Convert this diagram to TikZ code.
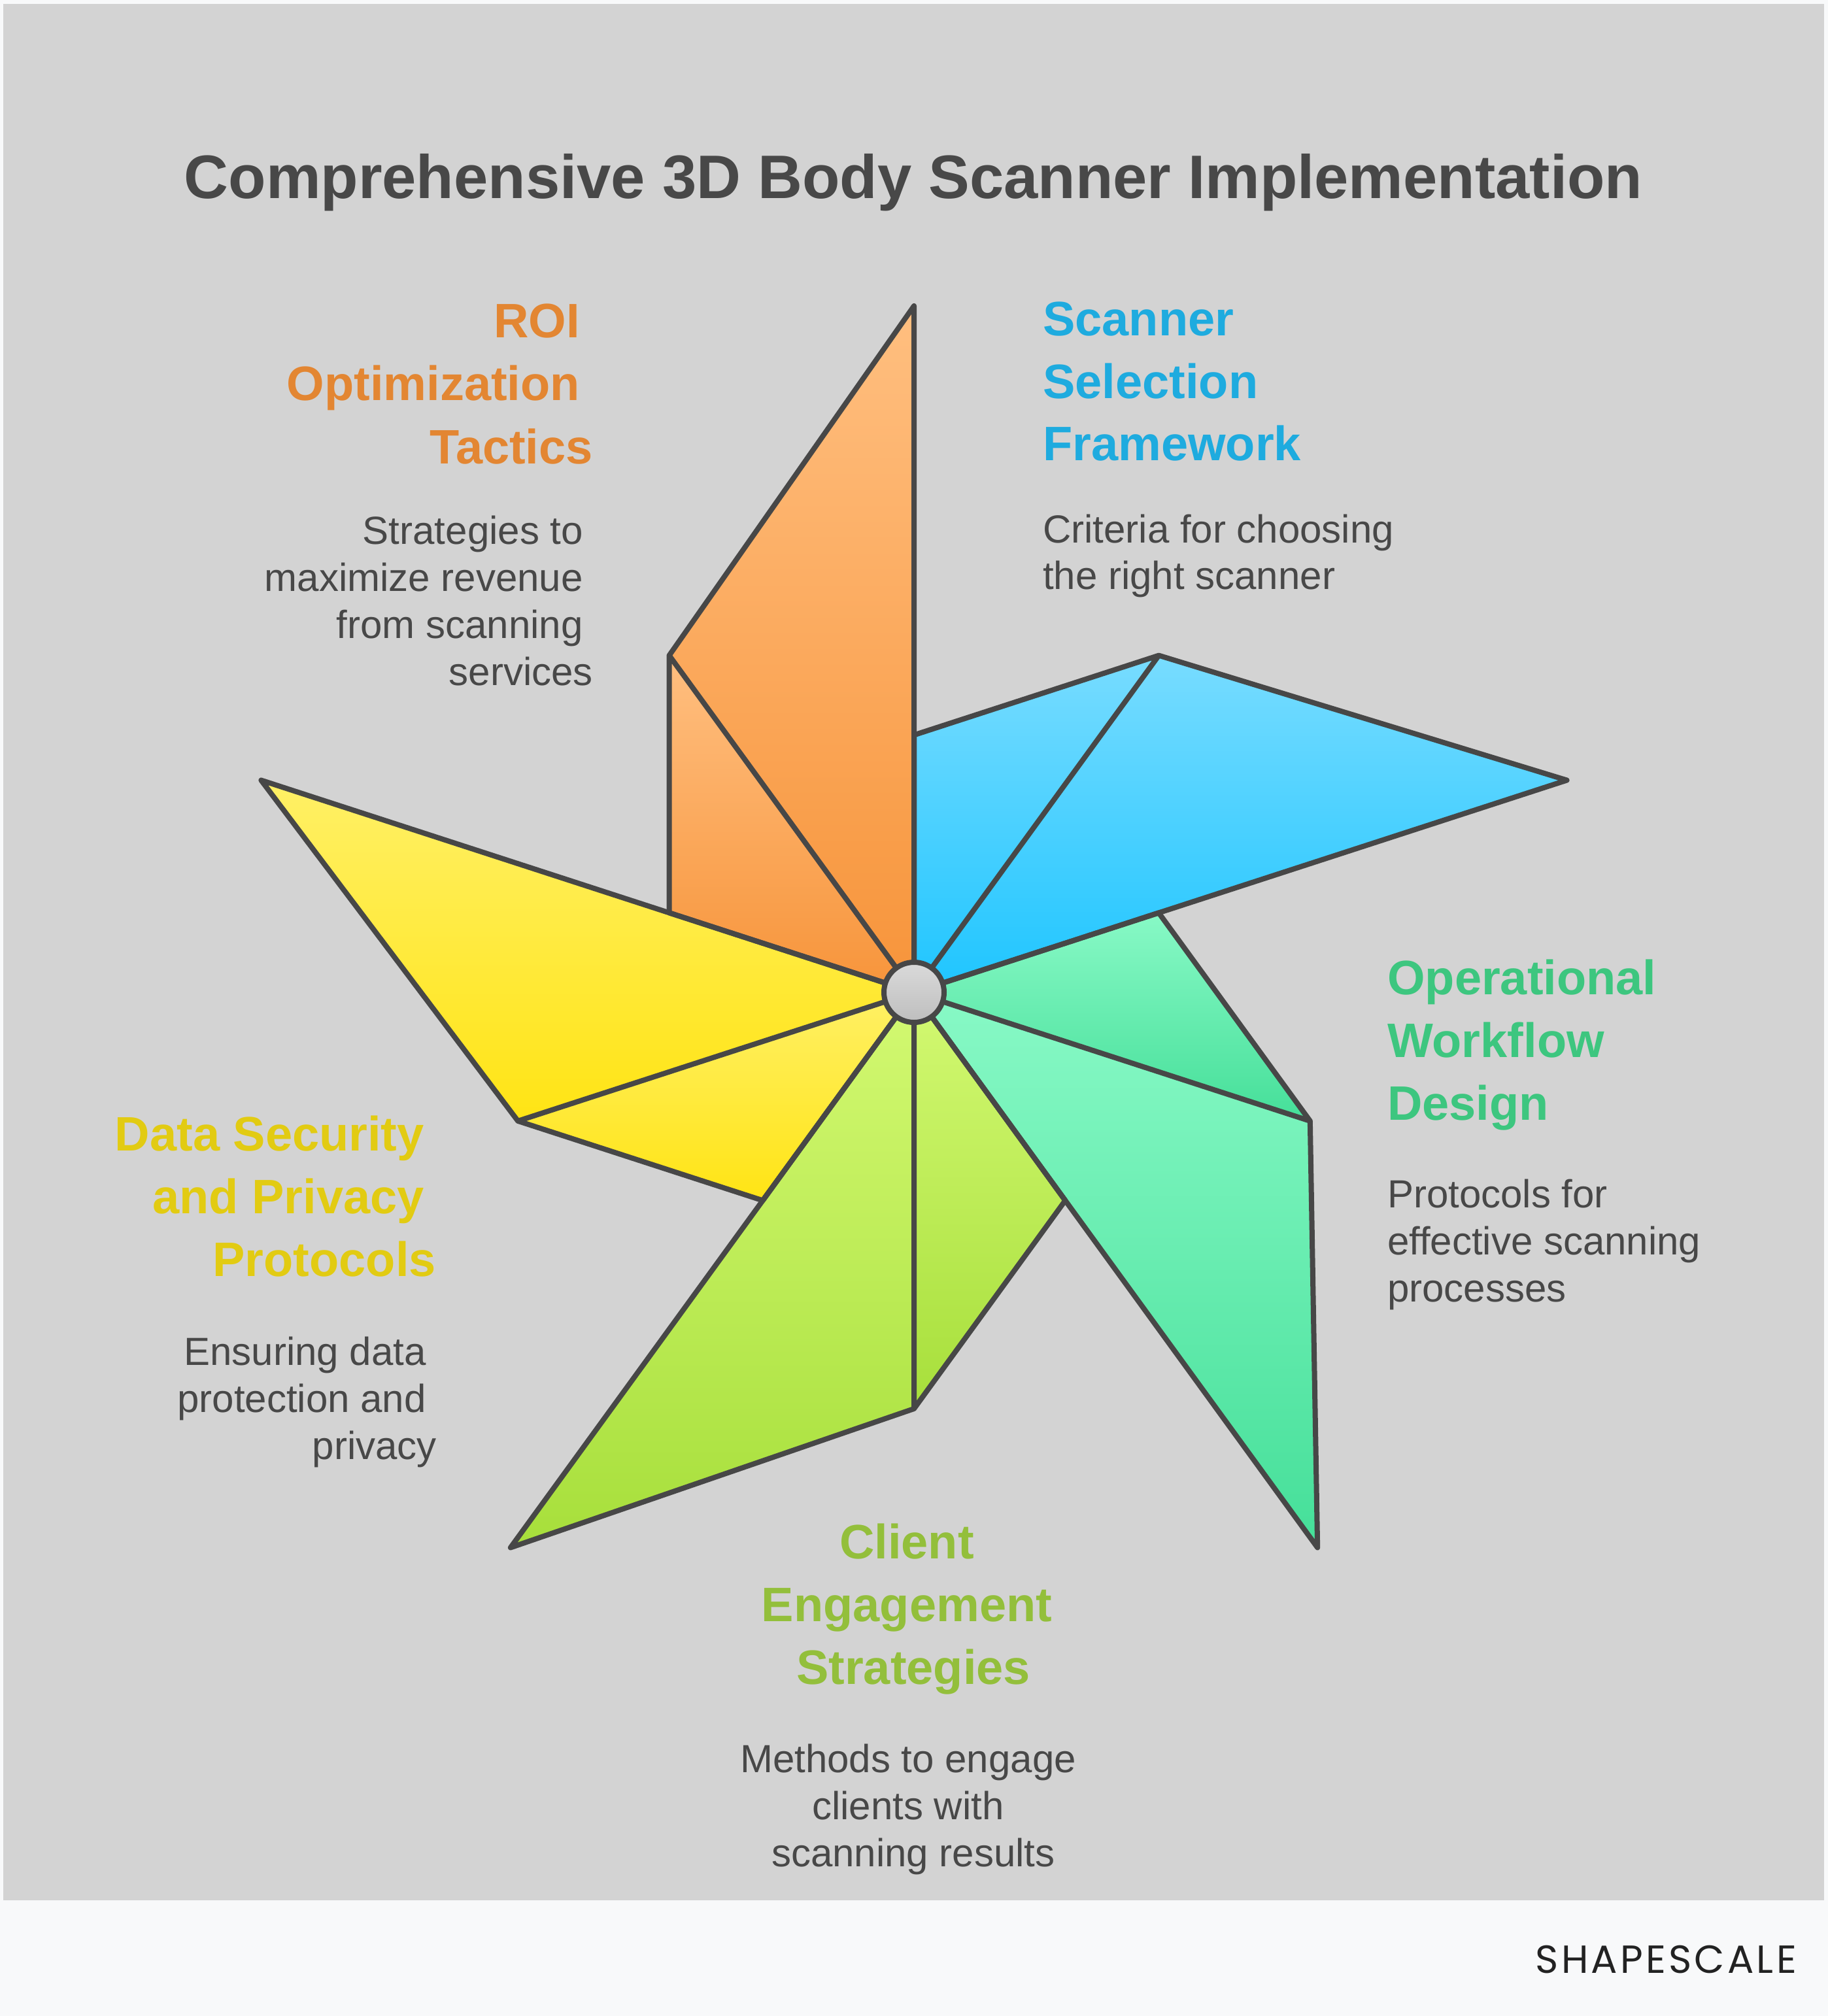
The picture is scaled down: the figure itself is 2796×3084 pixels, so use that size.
\documentclass[tikz,border=0pt]{standalone}
\usepackage{fontspec}
\setmainfont{Liberation Sans}
\newfontfamily\logofont{Poppins}[LetterSpace=7]
\usetikzlibrary{calc}
\definecolor{bggray}{HTML}{D3D3D3}
\definecolor{footbg}{HTML}{F8F9FA}
\definecolor{edgecol}{HTML}{474747}
\definecolor{txtdark}{HTML}{484848}
\definecolor{logocol}{HTML}{222222}
\definecolor{hOrange}{HTML}{E38632}
\definecolor{hBlue}{HTML}{1EABDF}
\definecolor{hGreen}{HTML}{3DC67F}
\definecolor{hLime}{HTML}{93BF3B}
\definecolor{hYellow}{HTML}{E2CB12}
\definecolor{orTop}{HTML}{FFBF80}
\definecolor{orBot}{HTML}{F7943A}
\definecolor{blTop}{HTML}{78DCFF}
\definecolor{blBot}{HTML}{1EC5FF}
\definecolor{grTop}{HTML}{88F9C6}
\definecolor{grBot}{HTML}{45DF99}
\definecolor{liTop}{HTML}{D3F972}
\definecolor{liBot}{HTML}{A7DF3B}
\definecolor{yeTop}{HTML}{FFF066}
\definecolor{yeBot}{HTML}{FFE414}
\definecolor{hubTop}{HTML}{DADADA}
\definecolor{hubBot}{HTML}{BEBEBE}
\begin{document}
\begin{tikzpicture}[x=1pt,y=-1pt,
  edge/.style={draw=edgecol, line width=8pt, line join=round, line cap=round},
  titlestyle/.style={font=\fontsize{94}{113}\selectfont\bfseries, text=txtdark, inner sep=0pt},
  headstyle/.style={font=\fontsize{74}{96}\selectfont\bfseries, inner sep=0pt},
  bodystyle/.style={font=\fontsize{60}{72}\selectfont, text=txtdark, inner sep=0pt}]
\useasboundingbox (0,0) rectangle (2796,3084);
\fill[footbg] (0,0) rectangle (2796,3084);
\fill[bggray] (5,6) rectangle (2790,2907);

\node[titlestyle, anchor=base] (title) at (1397,303) {Comprehensive 3D Body Scanner Implementation};

% pinwheel geometry
\coordinate (C) at (1398,1518);
\foreach \k/\a in {0/-90,1/-18,2/54,3/126,4/198} {
  \coordinate (T\k) at ($(C)+(\a:1050)$);
  \coordinate (M\k) at ($(C)+({\a-36}:637)$);
  \coordinate (P\k) at ($(C)+({\a-72}:393.6)$);
}
\foreach \k/\ct/\cb in {0/orTop/orBot,1/blTop/blBot,2/grTop/grBot,3/liTop/liBot,4/yeTop/yeBot} {
  \shade[top color=\ct, bottom color=\cb] (C) -- (T\k) -- (M\k) -- cycle;
  \shade[top color=\ct, bottom color=\cb] (C) -- (M\k) -- (P\k) -- cycle;
}
\foreach \k in {0,...,4} {
  \draw[edge] (C) -- (T\k) -- (M\k) -- (P\k) -- cycle (C) -- (M\k);
}
\node[circle, draw=edgecol, line width=8pt, minimum size=92pt, inner sep=0pt,
      top color=hubTop, bottom color=hubBot] (hub) at (C) {};

% Scanner Selection Framework
\node[headstyle, text=hBlue, anchor=base west] (s1) at (1595,513) {Scanner};
\node[headstyle, text=hBlue, anchor=base west] (s2) at (1595,609) {Selection};
\node[headstyle, text=hBlue, anchor=base west] (s3) at (1595,704) {Framework};
\node[bodystyle, anchor=base west] (sb1) at (1595,830) {Criteria for choosing};
\node[bodystyle, anchor=base west] (sb2) at (1595,901) {the right scanner};

% ROI Optimization Tactics
\node[headstyle, text=hOrange, anchor=base east] (r1) at (887,516) {ROI};
\node[headstyle, text=hOrange, anchor=base east] (r2) at (887,612) {Optimization};
\node[headstyle, text=hOrange, anchor=base east] (r3) at (907,709) {Tactics};
\node[bodystyle, anchor=base east] (rb1) at (892,832) {Strategies to};
\node[bodystyle, anchor=base east] (rb2) at (892,904) {maximize revenue};
\node[bodystyle, anchor=base east] (rb3) at (892,976) {from scanning};
\node[bodystyle, anchor=base east] (rb4) at (907,1048) {services};

% Operational Workflow Design
\node[headstyle, text=hGreen, anchor=base west] (o1) at (2122,1521) {Operational};
\node[headstyle, text=hGreen, anchor=base west] (o2) at (2122,1617) {Workflow};
\node[headstyle, text=hGreen, anchor=base west] (o3) at (2122,1713) {Design};
\node[bodystyle, anchor=base west] (ob1) at (2122,1847) {Protocols for};
\node[bodystyle, anchor=base west] (ob2) at (2122,1919) {effective scanning};
\node[bodystyle, anchor=base west] (ob3) at (2122,1991) {processes};

% Data Security and Privacy Protocols
\node[headstyle, text=hYellow, anchor=base east] (d1) at (649,1760) {Data Security};
\node[headstyle, text=hYellow, anchor=base east] (d2) at (649,1856) {and Privacy};
\node[headstyle, text=hYellow, anchor=base east] (d3) at (667,1952) {Protocols};
\node[bodystyle, anchor=base east] (db1) at (652,2088) {Ensuring data};
\node[bodystyle, anchor=base east] (db2) at (652,2160) {protection and};
\node[bodystyle, anchor=base east] (db3) at (668,2232) {privacy};

% Client Engagement Strategies
\node[headstyle, text=hLime, anchor=base] (c1) at (1387,2384) {Client};
\node[headstyle, text=hLime, anchor=base] (c2) at (1387,2480) {Engagement};
\node[headstyle, text=hLime, anchor=base] (c3) at (1397,2576) {Strategies};
\node[bodystyle, anchor=base] (cb1) at (1389,2711) {Methods to engage};
\node[bodystyle, anchor=base] (cb2) at (1389,2783) {clients with};
\node[bodystyle, anchor=base] (cb3) at (1397,2855) {scanning results};

% logo
\node[anchor=base east, font=\logofont\fontsize{60}{60}\selectfont, text=logocol, inner sep=0pt] (logo) at (2748,3018) {SHAPESCALE};
\end{tikzpicture}
\end{document}
